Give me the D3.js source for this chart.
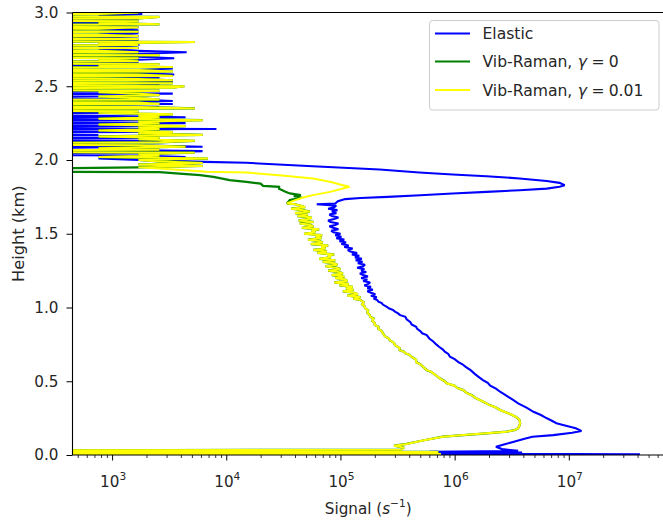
<!DOCTYPE html>
<html><head><meta charset="utf-8">
<script src="https://cdn.jsdelivr.net/npm/d3@7"></script>
<style>body{margin:0;background:#fff} svg{display:block} text{font-family:"DejaVu Sans",sans-serif;fill:#262626}</style>
</head><body><svg id="chart" width="663" height="522"></svg>
<script>
// ---------- DATA (height km, signal s^-1); 1 = empty bin (off the log axis) ----------
const elasticProfile = [
 [0.000,1],[0.005,4.2e7],[0.010,5.2e5],[0.016,3.9e6],[0.022,6.0e5],[0.028,3.6e6],[0.040,2.6e6],[0.056,2.3e6],
 [0.075,2.8e6],[0.090,3.3e6],[0.110,4.1e6],[0.124,4.8e6],[0.135,7.3e6],[0.151,1.07e7],[0.163,1.29e7],[0.181,1.15e7],
 [0.203,8.9e6],[0.215,7.8e6],[0.237,6.9e6],[0.255,6.2e6],[0.271,5.7e6],[0.293,4.9e6],[0.320,4.3e6],[0.350,3.6e6],
 [0.370,3.3e6],[0.390,3.0e6],[0.410,2.75e6],[0.429,2.5e6],[0.450,2.3e6],[0.470,2.05e6],[0.490,1.95e6],[0.508,1.77e6],
 [0.530,1.62e6],[0.550,1.5e6],[0.575,1.38e6],[0.598,1.25e6],[0.615,1.17e6],[0.630,1.08e6],[0.650,1.0e6],[0.666,9.1e5],
 [0.685,8.8e5],[0.700,8.2e5],[0.715,7.9e5],[0.734,7.3e5],[0.750,6.9e5],[0.770,6.5e5],[0.790,6.0e5],[0.813,5.7e5],
 [0.825,5.2e5],[0.840,5.0e5],[0.855,4.7e5],[0.869,4.6e5],[0.885,4.2e5],[0.900,4.1e5],[0.920,3.8e5],[0.937,3.7e5],
 [0.950,3.3e5],[0.960,3.2e5],[0.972,3.0e5],[0.982,2.9e5],[0.995,2.65e5],[1.005,2.55e5],[1.020,2.35e5],[1.030,2.3e5],
 [1.040,2.15e5],[1.05,2.10e5],[1.06,1.95e5],[1.07,2.08e5],[1.08,1.85e5],[1.09,2.02e5],[1.10,1.85e5],[1.11,1.72e5],
 [1.12,1.92e5],[1.13,1.72e5],[1.14,1.85e5],[1.15,1.62e5],[1.16,1.75e5],[1.17,1.82e5],[1.18,1.58e5],[1.19,1.72e5],
 [1.20,1.52e5],[1.21,1.74e5],[1.22,1.58e5],[1.23,1.48e5],[1.24,1.68e5],[1.25,1.52e5],[1.26,1.62e5],[1.27,1.40e5],
 [1.28,1.58e5],[1.29,1.64e5],[1.30,1.42e5],[1.31,1.56e5],[1.32,1.36e5],[1.33,1.54e5],[1.34,1.34e5],[1.35,1.46e5],
 [1.36,1.26e5],[1.37,1.40e5],[1.38,1.22e5],[1.39,1.16e5],[1.40,1.28e5],[1.41,1.08e5],[1.42,1.18e5],[1.43,1.02e5],
 [1.44,1.12e5],[1.45,9.8e4],[1.46,1.08e5],[1.47,9.2e4],[1.48,1.02e5],[1.49,9.0e4],[1.50,1.0e5],[1.51,8.7e4],
 [1.52,8.3e4],[1.53,9.6e4],[1.54,8.6e4],[1.55,8.0e4],[1.56,9.0e4],[1.57,9.6e4],[1.58,8.2e4],[1.59,7.8e4],
 [1.60,8.8e4],[1.61,9.6e4],[1.62,8.4e4],[1.63,8.0e4],[1.64,9.2e4],[1.65,8.4e4],[1.66,9.4e4],[1.67,7.8e4],
 [1.68,8.8e4],[1.69,9.2e4],[1.700,6.2e4],[1.705,9.0e4],[1.720,9.5e4],[1.735,1.1e5],[1.742,1.5e5],[1.750,2.6e5],
 [1.761,5.0e5],[1.773,9.6e5],[1.784,1.9e6],[1.795,3.7e6],[1.806,6.4e6],[1.818,8.3e6],[1.829,9.2e6],[1.845,8.3e6],
 [1.858,6.4e6],[1.875,3.7e6],[1.890,1.9e6],[1.902,9.6e5],[1.915,4.9e5],[1.936,2.2e5],[1.958,5.7e4],[1.981,1.5e4],
 [1.987,6.5e3]
];
// noisy far range, one value per 10 m bin from 2.00 km to 3.00 km
const elasticNoiseStart = 2.00;
const elasticNoise = [
 1700,760,4400,1700,1,1700,6200,760,1,6200,
 1700,1,760,3400,1,1700,1,760,1,1700,
 1,8200,1,1700,1,4400,1,1700,1,4400,
 760,1,1700,1,760,1,2600,1,3400,760,
 3400,1700,1,760,1,3400,1,760,1,1700,
 760,2600,1700,3400,1700,760,2600,1700,3500,1700,
 760,1700,3400,1700,760,1,1700,760,1700,3500,
 1700,760,1700,4500,1700,760,1700,760,1700,1700,
 760,1700,1,760,1700,760,1700,760,1700,760,
 1700,760,1700,760,1,1700,760,1700,760,1800,
 1800
];
// both Vib-Raman runs coincide below 1.7 km
const ramanLowerProfile = [
 [0.000,1],[0.007,7.6e5],[0.014,1],[0.021,7.2e5],[0.028,1],[0.036,3.4e5],[0.050,3.6e5],[0.063,2.95e5],
 [0.075,3.8e5],[0.100,5.4e5],[0.124,7.9e5],[0.135,1.2e6],[0.147,1.9e6],[0.158,2.85e6],[0.170,3.4e6],[0.181,3.6e6],
 [0.200,3.7e6],[0.215,3.75e6],[0.237,3.7e6],[0.255,3.5e6],[0.271,3.2e6],[0.290,2.8e6],[0.305,2.5e6],[0.322,2.3e6],
 [0.340,2.0e6],[0.355,1.85e6],[0.373,1.66e6],[0.390,1.5e6],[0.405,1.42e6],[0.420,1.28e6],[0.440,1.19e6],[0.455,1.05e6],
 [0.470,1.0e6],[0.486,8.5e5],[0.500,8.2e5],[0.520,7.4e5],[0.535,7.0e5],[0.553,6.5e5],[0.565,6.2e5],[0.575,5.7e5],
 [0.598,5.3e5],[0.615,5.0e5],[0.630,4.6e5],[0.645,4.6e5],[0.666,4.2e5],[0.680,4.0e5],[0.690,3.7e5],[0.700,3.6e5],
 [0.711,3.3e5],[0.725,3.3e5],[0.745,3.0e5],[0.760,2.95e5],[0.779,2.7e5],[0.790,2.65e5],[0.805,2.45e5],[0.824,2.36e5],
 [0.840,2.3e5],[0.855,2.15e5],[0.870,2.15e5],[0.881,2.0e5],[0.895,2.0e5],[0.910,1.9e5],[0.925,1.95e5],[0.937,1.82e5],
 [0.950,1.8e5],[0.965,1.72e5],[0.980,1.75e5],[0.994,1.65e5],[1.010,1.62e5],[1.020,1.55e5],[1.035,1.6e5],
 [1.05,1.50e5],[1.06,1.30e5],[1.07,1.50e5],[1.08,1.15e5],[1.09,1.42e5],[1.10,1.32e5],[1.11,1.05e5],[1.12,1.30e5],
 [1.13,1.12e5],[1.14,1.28e5],[1.15,9.8e4],[1.16,1.18e5],[1.17,8.8e4],[1.18,1.15e5],[1.19,1.10e5],[1.20,9.0e4],
 [1.21,1.08e5],[1.22,8.4e4],[1.23,1.05e5],[1.24,9.8e4],[1.25,7.8e4],[1.26,1.0e5],[1.27,9.2e4],[1.28,7.4e4],
 [1.29,9.4e4],[1.30,8.8e4],[1.31,7.0e4],[1.32,9.0e4],[1.33,6.5e4],[1.34,8.2e4],[1.35,7.8e4],[1.36,8.8e4],
 [1.37,6.3e4],[1.38,7.6e4],[1.39,5.8e4],[1.40,7.4e4],[1.41,6.8e4],[1.42,7.8e4],[1.43,5.5e4],[1.44,7.0e4],
 [1.45,6.6e4],[1.46,5.2e4],[1.47,6.8e4],[1.48,6.1e4],[1.49,6.9e4],[1.50,4.8e4],[1.51,6.0e4],[1.52,5.6e4],
 [1.53,6.5e4],[1.54,4.6e4],[1.55,5.8e4],[1.56,5.4e4],[1.57,4.4e4],[1.58,5.8e4],[1.59,4.3e4],[1.60,5.3e4],
 [1.61,5.6e4],[1.62,4.2e4],[1.63,5.2e4],[1.64,4.0e4],[1.65,5.4e4],[1.66,4.7e4],[1.67,3.7e4],[1.68,4.9e4],
 [1.69,4.5e4],[1.70,4.0e4],[1.705,3.4e4]
];
// Vib-Raman gamma = 0 : cloud layer
const raman0Upper = [
 [1.728,3.6e4],[1.745,4.6e4],[1.755,3.9e4],[1.762,4.5e4],[1.773,3.6e4],[1.785,3.3e4],[1.795,3.1e4],[1.805,2.9e4],
 [1.818,2.9e4],[1.825,2.1e4],[1.840,2.0e4],[1.852,1.5e4],[1.863,1.07e4],[1.875,9000],[1.886,7700],[1.897,5900],
 [1.908,3900],[1.918,2600],[1.925,1]
];
// Vib-Raman gamma = 0.01 : cloud layer
const raman001Upper = [
 [1.723,3.85e4],[1.746,4.7e4],[1.762,5.75e4],[1.784,8.1e4],[1.807,1.05e5],[1.818,1.2e5],[1.829,1.05e5],[1.852,8.1e4],
 [1.875,5.75e4],[1.897,2.9e4],[1.915,1.5e4],[1.920,6700],[1.942,2620]
];
// noisy far range for the Raman channel, one value per 10 m bin from 1.95 km to 3.00 km
const ramanNoiseStart = 1.95;
const ramanNoise = [
 1700,6200,1700,6200,2600,
 1700,6900,760,2600,1700,5300,1,2600,760,4400,
 1700,1,2600,5300,1700,2600,760,6200,1700,3400,
 760,2600,1700,4400,760,2600,1700,6200,760,2600,
 1700,3400,760,1700,1,5300,1700,1,2600,1700,
 1,2600,1700,760,2600,1700,760,2600,1,3400,
 4300,1,3400,1,3400,1700,1,3400,1700,1,
 3400,1700,1,3400,760,2600,1,1700,760,1700,
 1,2600,1,1700,760,1,1700,1,1700,760,
 5300,1,1700,1,1700,760,1,1700,1,760,
 1700,1,2600,760,1700,1,1700,2600,1,760,
 1700
];
const majorTicks = [1e3,1e4,1e5,1e6,1e7];
const majorExp = ["3","4","5","6","7"];
const yTicks = [0,0.5,1.0,1.5,2.0,2.5,3.0];
const seriesNames = ["Elastic","Vib-Raman,","Vib-Raman,"];
const seriesMath = [null,"0","0.01"];
const seriesColors = ["#0000ff","#008000","#ffff00"];

// ---------- build series ----------
const noisePts = (start, vals) => vals.map((v,i)=>[+(start+i*0.01).toFixed(3), v]);
const elastic = elasticProfile.concat(noisePts(elasticNoiseStart, elasticNoise));
const raman0 = ramanLowerProfile.concat(raman0Upper, noisePts(ramanNoiseStart, ramanNoise));
const raman001 = ramanLowerProfile.concat(raman001Upper, noisePts(ramanNoiseStart, ramanNoise));

// ---------- layout ----------
const L = 72.5, R = 666, T = 12.5, B = 455;
const svg = d3.select("#chart");
const x = d3.scaleLog().domain([450, 7.1e7]).range([L, R]);
const y = d3.scaleLinear().domain([0, 3]).range([B, T]);
const FS = 15.2, LFS = 15.6;

svg.append("defs").append("clipPath").attr("id","clip")
  .append("rect").attr("x",L).attr("y",T).attr("width",R-L).attr("height",B-T);

const line = d3.line().x(d=>x(d[1])).y(d=>y(d[0]));
const g = svg.append("g").attr("clip-path","url(#clip)");
[[elastic,0,2.1],[raman0,1,2.25],[raman001,2,2.0]].forEach(([data,i,w])=>{
  g.append("path").datum(data).attr("d",line).attr("fill","none")
   .attr("stroke",seriesColors[i]).attr("stroke-width",w).attr("stroke-linejoin","miter").attr("stroke-miterlimit",2);
});

// ---------- axes ----------
const minor = [];
for (let e=2;e<=7;e++) for (let m=2;m<=9;m++){ const v=m*Math.pow(10,e); if (v>=450 && v<=7.1e7) minor.push(v); }
svg.append("g").attr("transform",`translate(0,${B})`)
  .call(d3.axisBottom(x).tickValues(minor).tickSize(3).tickFormat(""))
  .call(a=>a.select(".domain").remove())
  .call(a=>a.selectAll("line").attr("stroke","#000").attr("stroke-width",0.8));
svg.append("g").attr("transform",`translate(0,${B})`)
  .call(d3.axisBottom(x).tickValues(majorTicks).tickSize(5.5).tickFormat(""))
  .call(a=>a.select(".domain").remove())
  .call(a=>a.selectAll("line").attr("stroke","#000").attr("stroke-width",1));
majorTicks.forEach((v,i)=>{
  const t = svg.append("text").attr("x",x(v)+1).attr("y",486.5).attr("text-anchor","middle").attr("font-size",FS);
  t.append("tspan").text("10");
  t.append("tspan").attr("dy",-7).attr("font-size",FS*0.7).text(majorExp[i]);
});
svg.append("g").attr("transform",`translate(${L},0)`)
  .call(d3.axisLeft(y).tickValues(yTicks).tickSize(6).tickPadding(8).tickFormat(d3.format(".1f")))
  .call(a=>a.select(".domain").remove())
  .call(a=>a.selectAll("line").attr("stroke","#000").attr("stroke-width",1))
  .call(a=>a.selectAll("text").attr("font-size",FS).attr("font-family","DejaVu Sans").attr("fill","#262626"));

// spines
svg.append("line").attr("x1",L).attr("x2",L).attr("y1",T).attr("y2",B).attr("stroke","#000").attr("stroke-width",1.1);
svg.append("line").attr("x1",L).attr("x2",R).attr("y1",B).attr("y2",B).attr("stroke","#000").attr("stroke-width",1.1);
svg.append("line").attr("x1",L).attr("x2",R).attr("y1",T).attr("y2",T).attr("stroke","#000").attr("stroke-width",1.1);

// axis labels
const xl = svg.append("text").attr("x",(L+R)/2 - 1).attr("y",514).attr("text-anchor","middle").attr("font-size",FS);
xl.append("tspan").text("Signal (");
xl.append("tspan").attr("font-style","italic").text("s");
xl.append("tspan").attr("dy",-7).attr("font-size",FS*0.7).text("\u22121");
xl.append("tspan").attr("dy",7).text(")");
svg.append("text").attr("transform",`translate(23.5,${(T+B)/2}) rotate(-90)`).attr("text-anchor","middle")
  .attr("font-size",16.2).text("Height (km)");

// legend
const lg = svg.append("g");
lg.append("rect").attr("x",429.5).attr("y",20.5).attr("width",229.5).attr("height",89.5).attr("rx",3)
  .attr("fill","#fff").attr("fill-opacity",0.8).attr("stroke","#cccccc").attr("stroke-width",1);
const rowsY = [33.5,61.5,90];
seriesNames.forEach((n,i)=>{
  lg.append("line").attr("x1",435).attr("x2",470).attr("y1",rowsY[i]).attr("y2",rowsY[i])
    .attr("stroke",seriesColors[i]).attr("stroke-width",2);
  const t = lg.append("text").attr("x",482.5).attr("y",rowsY[i]+5.6).attr("font-size",LFS);
  t.append("tspan").text(n);
  if (seriesMath[i]!==null){
    t.append("tspan").attr("dx",5.5).attr("font-style","italic").text("\u03b3");
    t.append("tspan").attr("dx",4.5).text("=");
    t.append("tspan").attr("dx",4).text(seriesMath[i]);
  }
});
</script></body></html>
